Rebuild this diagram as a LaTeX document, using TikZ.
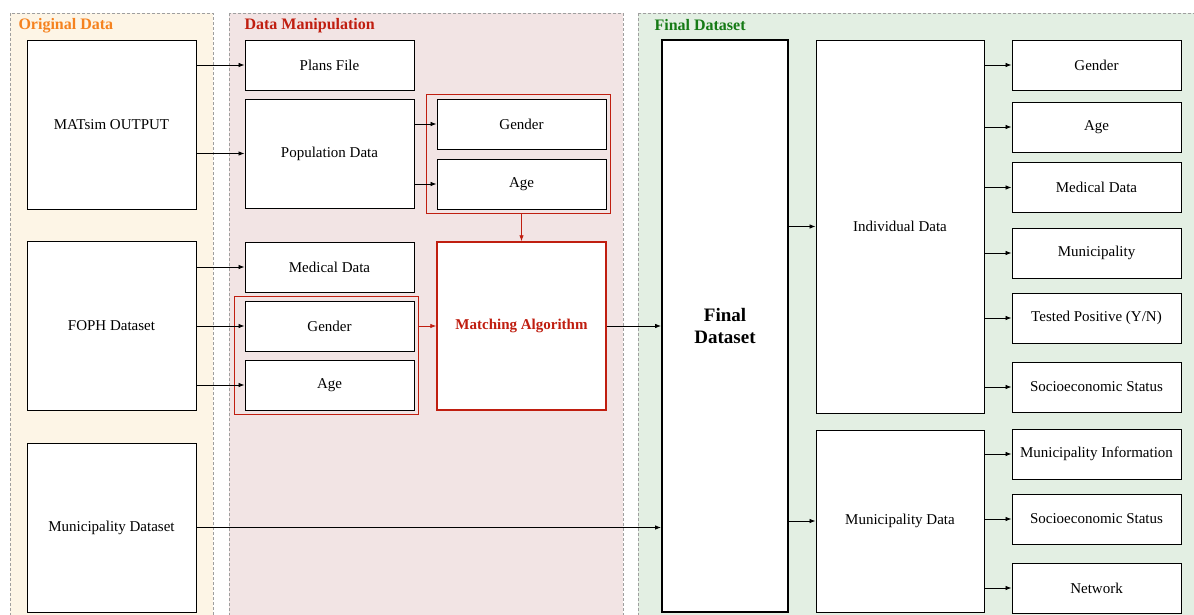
\documentclass[tikz,border=0pt]{standalone}
\usepackage{fontspec}
\setmainfont{Liberation Serif}
\usetikzlibrary{positioning,fit,arrows.meta}
\definecolor{origfill}{HTML}{FDF5E6}
\definecolor{manifill}{HTML}{F2E4E4}
\definecolor{finfill}{HTML}{E3EFE3}
\definecolor{origtxt}{HTML}{F5821F}
\definecolor{manitxt}{HTML}{C01E10}
\definecolor{fintxt}{HTML}{157A15}
\tikzset{
x=1pt, y=-1pt, % one unit is one pixel of the layout
box/.style={draw, fill=white, line width=0.9pt, inner sep=0pt, minimum width=169pt, minimum height=50pt, font=\fontsize{15}{18}\selectfont}, % the plain data boxes
bigbox/.style={box, minimum height=169pt}, % the source boxes
panel/.style={draw=gray!75, dash pattern=on 3pt off 2pt, line width=0.7pt}, % the three stages
title/.style={anchor=west, font=\bfseries\fontsize{16}{19}\selectfont}, % stage names
grp/.style={draw=manitxt, line width=1.5pt, inner ysep=4pt, inner xsep=7pt, xshift=-3pt}, % red frames round gender and age
arr/.style={-{Latex[length=6pt,width=4.5pt]}, line width=0.8pt},
redarr/.style={arr, color=manitxt},
}
\begin{document}
\begin{tikzpicture}
\useasboundingbox (0,0) rectangle (1194,615);
\draw[panel, fill=origfill] (10,13) rectangle (213,630);
\draw[panel, fill=manifill] (229,13) rectangle (623,630);
\draw[panel, fill=finfill] (638,13) rectangle (1210,630);
\node[title, text=origtxt] (torig) at (15,25.5) {Original Data};
\node[title, text=manitxt] (tmani) at (241,25.5) {Data Manipulation};
\node[title, text=fintxt] (tfin) at (651,25.5) {Final Dataset};

\node[bigbox] (matsim) at (111.5,124.5) {MATsim OUTPUT};
\node[bigbox] (foph) at (111.5,326) {FOPH Dataset};
\node[bigbox] (muni) at (111.5,527.5) {Municipality Dataset};

\node[box] (plans) at (329.5,65) {Plans File};
\node[box, minimum height=109pt] (pop) at (329.5,153.5) {Population Data};
\node[box] (gen1) at (521.5,124) {Gender};
\node[box] (age1) at (521.5,184) {Age};
\node[box] (med) at (329.5,267) {Medical Data};
\node[box] (gen2) at (329.5,326) {Gender};
\node[box] (age2) at (329.5,385) {Age};
\node[grp, fit=(gen1)(age1)] (grpA) {};
\node[grp, fit=(gen2)(age2)] (grpB) {};
\node[box, draw=manitxt, line width=1.5pt, minimum height=168pt, text=manitxt, font=\bfseries\fontsize{15}{18}\selectfont] (match) at (521.5,326) {Matching Algorithm};

\node[box, line width=1.8pt, minimum width=126pt, minimum height=572pt, align=center, font=\bfseries\fontsize{19}{22}\selectfont] (fin) at (725,326) {Final\\Dataset};
\node[box, minimum width=168pt, minimum height=373pt] (ind) at (900,226.5) {Individual Data};
\node[box, minimum width=168pt, minimum height=182pt] (mdat) at (900,521) {Municipality Data};

\node[box] (rgen) at (1096.5,65) {Gender};
\node[box] (rage) at (1096.5,127) {Age};
\node[box] (rmed) at (1096.5,187.5) {Medical Data};
\node[box] (rmun) at (1096.5,253) {Municipality};
\node[box] (rpos) at (1096.5,318) {Tested Positive (Y/N)};
\node[box] (rses) at (1096.5,387) {Socioeconomic Status};
\node[box] (rinf) at (1096.5,454) {Municipality Information};
\node[box] (rses2) at (1096.5,519) {Socioeconomic Status};
\node[box] (rnet) at (1096.5,588) {Network};

\path[arr]
(matsim.east |- plans) edge (plans.west)
(matsim.east |- pop) edge (pop.west)
(pop.east |- gen1) edge (gen1.west)
(pop.east |- age1) edge (age1.west)
(foph.east |- med) edge (med.west)
(foph.east |- gen2) edge (gen2.west)
(foph.east |- age2) edge (age2.west)
(match.east) edge (match.east -| fin.west)
(muni.east) edge (muni.east -| fin.west)
(fin.east |- ind) edge (ind.west)
(fin.east |- mdat) edge (mdat.west)
(ind.east |- rgen) edge (rgen.west)
(ind.east |- rage) edge (rage.west)
(ind.east |- rmed) edge (rmed.west)
(ind.east |- rmun) edge (rmun.west)
(ind.east |- rpos) edge (rpos.west)
(ind.east |- rses) edge (rses.west)
(mdat.east |- rinf) edge (rinf.west)
(mdat.east |- rses2) edge (rses2.west)
(mdat.east |- rnet) edge (rnet.west)
;
\path[redarr]
(grpA.south -| match) edge (match.north)
(grpB.east |- match) edge (match.west)
;
\end{tikzpicture}
\end{document}
